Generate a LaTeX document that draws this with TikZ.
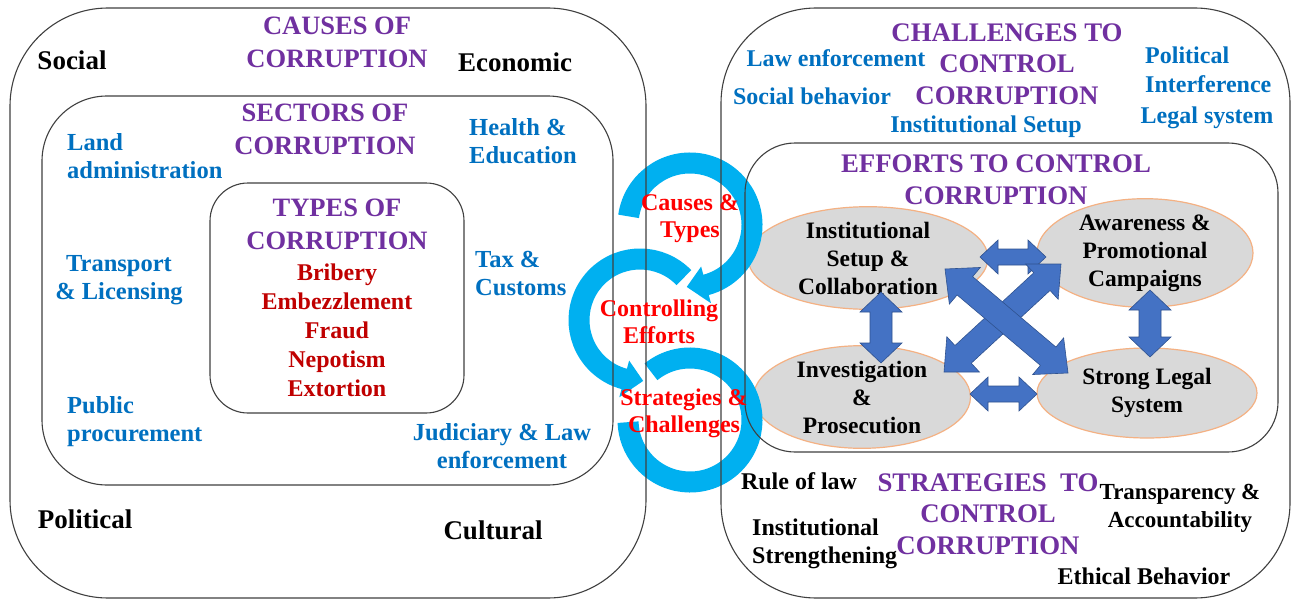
\documentclass[tikz,border=0pt]{standalone}
\usepackage{fontspec}
\setmainfont{Liberation Serif}
\usetikzlibrary{calc,shapes.geometric}
\definecolor{purp}{HTML}{7030A0}
\definecolor{blu}{HTML}{0070C0}
\definecolor{dred}{HTML}{C00000}
\definecolor{bred}{HTML}{FF0000}
\definecolor{cya}{HTML}{00B0F0}
\definecolor{ellfill}{HTML}{D9D9D9}
\definecolor{ellline}{HTML}{F4B183}
\definecolor{arrfill}{HTML}{4472C4}
\definecolor{arrline}{HTML}{2F528F}
\definecolor{boxcol}{HTML}{404040}
% #1,#2 end coordinates; #3 shaft half width; #4 head half width; #5 head length
\newcommand\blockarrow[5]{%
  \path let \p1=($(#2)-(#1)$) in \pgfextra{%
    \pgfmathsetmacro\baang{atan2(\y1,\x1)}%
    \pgfmathsetmacro\balen{veclen(\x1,\y1)}%
    \global\let\baang\baang\global\let\balen\balen};
  \filldraw[blockarr, shift={(#1)}, rotate=\baang]
    (0,0) -- ({#5},{#4}) -- ({#5},{#3}) -- ({\balen-#5},{#3}) -- ({\balen-#5},{#4})
    -- ({\balen},0) -- ({\balen-#5},{-#4}) -- ({\balen-#5},{-#3}) -- ({#5},{-#3})
    -- ({#5},{-#4}) -- cycle;
}
\begin{document}
\begin{tikzpicture}[x=1pt,y=-1pt,
  boxline/.style={draw=boxcol, line width=1.1pt},
  ell/.style={ellipse, draw=ellline, line width=1.2pt, fill=ellfill, inner sep=0pt,
    align=center, font=\fontsize{23.5}{28}\selectfont\bfseries},
  blockarr/.style={fill=arrfill, draw=arrline, line width=0.6pt},
  band/.style={draw=cya, line width=21pt},
  ttlL/.style={inner sep=0pt, text=purp, align=center, font=\fontsize{26.5}{33}\selectfont\bfseries},
  ttlR/.style={inner sep=0pt, text=purp, align=center, font=\fontsize{26.8}{31.5}\selectfont\bfseries},
  bigblack/.style={inner sep=0pt, text=black, font=\fontsize{27}{30}\selectfont\bfseries},
  blueL/.style={inner sep=0pt, text=blu, font=\fontsize{24.5}{28}\selectfont\bfseries},
  blueR/.style={inner sep=0pt, text=blu, font=\fontsize{24}{29}\selectfont\bfseries},
  blackR/.style={inner sep=0pt, text=black, font=\fontsize{24}{28}\selectfont\bfseries},
  typelist/.style={inner sep=0pt, text=dred, align=center, font=\fontsize{24}{29}\selectfont\bfseries},
  midred/.style={inner sep=0pt, text=bred, align=center, font=\fontsize{24}{27}\selectfont\bfseries},
]
\useasboundingbox (0,0) rectangle (1296,602);
\fill[white] (0,0) rectangle (1296,602);

% ---------- ellipses ----------
\node[ell, minimum width=240pt, minimum height=90pt] (inst) at (868,258) {Institutional\\Setup \&\\Collaboration};
\node[ell, minimum width=216pt, minimum height=82pt] (aware) at (1145,253) {Awareness \&\\Promotional\\Campaigns};
\node[ell, minimum width=217pt, minimum height=87pt] (invest) at (862,397) {Investigation\\\&\\Prosecution};
\node[ell, minimum width=220pt, minimum height=90pt] (legal) at (1147,393) {Strong Legal\\System};

% ---------- block arrows between ellipses ----------
\coordinate (h1a) at (980,257);  \coordinate (h1b) at (1046,257);
\coordinate (h2a) at (970,394);  \coordinate (h2b) at (1037,394);
\coordinate (v1a) at (881,292);  \coordinate (v1b) at (881,363);
\coordinate (v2a) at (1150,290); \coordinate (v2b) at (1150,357);
\coordinate (d1a) at (945,269);  \coordinate (d1b) at (1068,373);
\coordinate (d2a) at (1061,264); \coordinate (d2b) at (944,372);
\blockarrow{h1a}{h1b}{8}{17}{18}
\blockarrow{h2a}{h2b}{8}{17}{18}
\blockarrow{v1a}{v1b}{11}{21}{20}
\blockarrow{v2a}{v2b}{11}{21}{20}
\blockarrow{d2a}{d2b}{12}{24}{26}
\blockarrow{d1a}{d1b}{12}{24}{26}

% ---------- cyan circular arrows ----------
\coordinate (c3) at (690,420);
\coordinate (c2) at (640,320);
\coordinate (c1) at (690,225);
\draw[band] ($(c3)+(129:62pt)$) arc[start angle=129, end angle=-178, radius=62pt];
\draw[band] ($(c2)+(44:61pt)$) arc[start angle=44, end angle=256, radius=61pt];
\fill[cya] ($(c2)+(255:42pt)$) -- ($(c2)+(255:80pt)$) -- ($(c2)+(273:61pt)$) -- cycle;
\draw[band] ($(c1)+(172:62pt)$) arc[start angle=172, end angle=-76, radius=62pt];
\fill[cya] ($(c1)+(-75:43pt)$) -- ($(c1)+(-75:81pt)$) -- ($(c1)+(-93:62pt)$) -- cycle;

% ---------- boxes ----------
\draw[boxline, rounded corners=98pt] (10,8) rectangle (646,598);
\draw[boxline, rounded corners=65pt] (42,96) rectangle (613,485);
\draw[boxline, rounded corners=38pt] (210,183) rectangle (464,413);
\draw[boxline, rounded corners=95pt] (721,8) rectangle (1290,598);
\draw[boxline, rounded corners=50pt] (745,143) rectangle (1278,452);

% ---------- left texts ----------
\node[bigblack] (social) at (72,60) {Social};
\node[ttlL] (causes) at (337,42) {CAUSES OF\\CORRUPTION};
\node[bigblack] (economic) at (515,62) {Economic};
\node[ttlL] (sectors) at (325,129) {SECTORS OF\\CORRUPTION};
\node[blueL, align=left, anchor=west] (land) at (67,156) {Land\\administration};
\node[blueL, align=left, anchor=west] (health) at (469,141) {Health \&\\Education};
\node[ttlL] (types) at (337,224) {TYPES OF\\CORRUPTION};
\node[typelist] (tlist) at (337,330) {Bribery\\Embezzlement\\Fraud\\Nepotism\\Extortion};
\node[blueL, align=center] (transport) at (119,280) {Transport\\\& Licensing};
\node[blueL, align=left, anchor=west] (tax) at (475,274) {Tax \&\\Customs};
\node[blueL, align=left, anchor=west] (public) at (67,422) {Public\\procurement};
\node[blueL, align=center] (judic) at (502,446) {Judiciary \& Law\\enforcement};
\node[bigblack] (political) at (85,519) {Political};
\node[bigblack] (cultural) at (493,530) {Cultural};

% ---------- middle texts ----------
\node[midred] (ct) at (690,219) {Causes \&\\Types};
\node[midred] (ce) at (659,322) {Controlling\\Efforts};
\node[midred] (sc) at (684,413) {Strategies \&\\Challenges};

% ---------- right texts ----------
\node[ttlR] (chal) at (1007,64) {CHALLENGES TO\\CONTROL\\CORRUPTION};
\node[blueR] (lawenf) at (836,58) {Law enforcement};
\node[blueR] (socbeh) at (812,96) {Social behavior};
\node[blueR] (instset) at (986,127) {Institutional Setup};
\node[blueR, align=left, anchor=west] (polint) at (1145,70) {Political\\Interference};
\node[blueR] (legsys) at (1207,118) {Legal system};
\node[ttlR] (efforts) at (996,180) {EFFORTS TO CONTROL\\CORRUPTION};
\node[blackR] (rule) at (799,481) {Rule of law};
\node[ttlR] (strat) at (988,514) {STRATEGIES\ \ TO\\CONTROL\\CORRUPTION};
\node[blackR, align=center, font=\fontsize{23}{28}\selectfont\bfseries] (transp) at (1180,508) {Transparency \&\\Accountability};
\node[blackR, align=left, anchor=west] (instst) at (752,544) {Institutional\\Strengthening};
\node[blackR] (ethic) at (1144,576) {Ethical Behavior};
\end{tikzpicture}
\end{document}
